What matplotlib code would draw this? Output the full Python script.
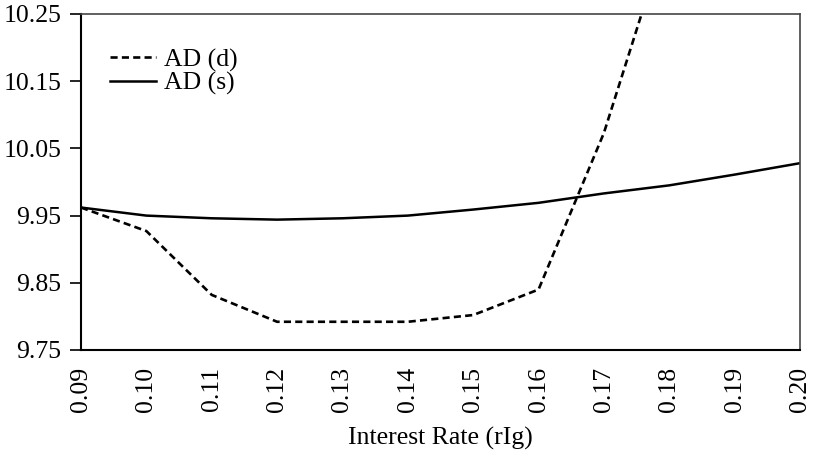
import numpy as np
import matplotlib
matplotlib.use("Agg")
import matplotlib.pyplot as plt

plt.rcParams['font.family'] = ['Liberation Serif', 'DejaVu Serif']

# interest rate grid and the two aggregate demand curves
rate = [0.09, 0.10, 0.11, 0.12, 0.13, 0.14, 0.15, 0.16, 0.17, 0.18, 0.19, 0.20]
ad_d = [9.962, 9.927, 9.832, 9.792, 9.792, 9.792, 9.802, 9.840, 10.073, 10.38, 10.70, 11.00]
ad_s = [9.962, 9.950, 9.946, 9.944, 9.946, 9.950, 9.959, 9.969, 9.983, 9.995, 10.011, 10.028]

xticks = [0.09, 0.10, 0.11, 0.12, 0.13, 0.14, 0.15, 0.16, 0.17, 0.18, 0.19, 0.20]
yticks = [9.75, 9.85, 9.95, 10.05, 10.15, 10.25]

fs = 18.5

fig = plt.figure(figsize=(8.14, 4.53), dpi=100)
ax = fig.add_axes([81 / 814, 1 - 350 / 453, (800 - 81) / 814, (350 - 14) / 453])

ax.plot(rate, ad_d, color='black', lw=1.9, linestyle=(0, (2.7, 1.6)), label='AD (d)')
ax.plot(rate, ad_s, color='black', lw=1.8, label='AD (s)')

ax.set_xlim(0.09, 0.20)
ax.set_ylim(9.75, 10.25)
ax.set_xticks(xticks)
ax.set_xticklabels(['%.2f' % v for v in xticks], rotation=90, fontsize=fs)
ax.set_yticks(yticks)
ax.set_yticklabels(['%.2f' % v for v in yticks], fontsize=fs)
ax.tick_params(axis='x', length=0, pad=12)
ax.tick_params(axis='y', length=8, width=1.2, pad=6, direction='out')

for side in ['left', 'bottom']:
    ax.spines[side].set_linewidth(1.5)
    ax.spines[side].set_color('black')
for side in ['top', 'right']:
    ax.spines[side].set_linewidth(1.2)
    ax.spines[side].set_color('#444444')

ax.set_xlabel('Interest Rate (rIg)', fontsize=fs, labelpad=11)

leg = ax.legend(loc='upper left', bbox_to_anchor=(0.04, 0.898), frameon=False,
                borderaxespad=0, borderpad=0,
                fontsize=fs, handlelength=1.8, handletextpad=0.3, labelspacing=0.0)

fig.savefig('out.png', dpi=100)
